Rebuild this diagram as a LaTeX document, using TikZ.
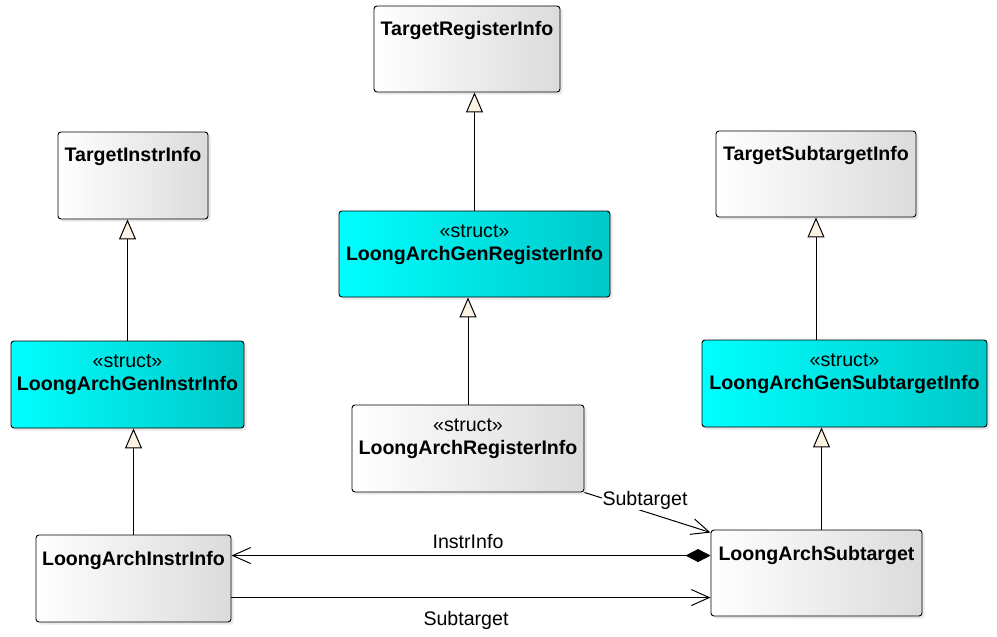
\documentclass[tikz,border=0pt]{standalone}
\usepackage{fontspec}
\setmainfont{Liberation Sans}
\usepackage{tikz}
\usetikzlibrary{arrows.meta, positioning, shadows}
\definecolor{gencyan}{RGB}{0,200,200}
\definecolor{tricream}{RGB}{252,242,228}
\tikzset{
  cls/.style={draw, line width=0.9pt, rounded corners=3pt, left color=white, right color=black!14,
    drop shadow={opacity=0.18, shadow xshift=2.5pt, shadow yshift=-2.5pt}},
  gencls/.style={cls, left color=cyan, right color=gencyan},
  clsname/.style={font=\fontsize{19.6}{23}\selectfont\bfseries, inner sep=0pt, text height=14pt, text depth=4pt},
  stereo/.style={font=\fontsize{19.6}{23}\selectfont, inner sep=0pt, text height=14pt, text depth=4pt},
  lbl/.style={font=\fontsize{19.6}{23}\selectfont, inner sep=1pt, fill=white},
  inherit/.style={line width=1pt, -{Triangle[length=20pt, width=17pt, fill=tricream, line width=1pt]}},
  assoc/.style={line width=1pt, -{Straight Barb[length=18pt, width=16pt, line width=1pt]}}
}

\begin{document}
\begin{tikzpicture}[x=1pt, y=-1pt]
  \useasboundingbox (0,0) rectangle (997,637);
  % classes
  \node[cls, minimum width=186pt, minimum height=86pt] (trg) at (467,49) {};
  \node[cls, minimum width=150pt, minimum height=87pt] (tii) at (133,175.5) {};
  \node[cls, minimum width=200pt, minimum height=86pt] (tsi) at (816,174) {};
  \node[gencls, minimum width=271pt, minimum height=86pt] (genreg) at (474.5,254) {};
  \node[gencls, minimum width=233pt, minimum height=87pt] (geninstr) at (127.5,384.5) {};
  \node[gencls, minimum width=285pt, minimum height=87pt] (gensub) at (844.5,383.5) {};
  \node[cls, minimum width=232pt, minimum height=87pt] (regi) at (468,448.5) {};
  \node[cls, minimum width=195pt, minimum height=87pt] (instr) at (133.5,578.5) {};
  \node[cls, minimum width=211pt, minimum height=86pt] (sub) at (816.5,573) {};
  % class names
  \node[clsname] (trgname) at ([yshift=-25pt]trg.north) {TargetRegisterInfo};
  \node[clsname] (tiiname) at ([yshift=-25pt]tii.north) {TargetInstrInfo};
  \node[clsname] (tsiname) at ([yshift=-25pt]tsi.north) {TargetSubtargetInfo};
  \node[stereo] (genregst) at ([yshift=-22pt]genreg.north) {«struct»};
  \node[clsname] (genregname) at ([yshift=-45pt]genreg.north) {LoongArchGenRegisterInfo};
  \node[stereo] (geninstrst) at ([yshift=-22pt]geninstr.north) {«struct»};
  \node[clsname] (geninstrname) at ([yshift=-45pt]geninstr.north) {LoongArchGenInstrInfo};
  \node[stereo] (gensubst) at ([yshift=-22pt]gensub.north) {«struct»};
  \node[clsname] (gensubname) at ([yshift=-45pt]gensub.north) {LoongArchGenSubtargetInfo};
  \node[stereo] (regist) at ([yshift=-22pt]regi.north) {«struct»};
  \node[clsname] (reginame) at ([yshift=-45pt]regi.north) {LoongArchRegisterInfo};
  \node[clsname] (instrname) at ([yshift=-26pt]instr.north) {LoongArchInstrInfo};
  \node[clsname] (subname) at ([yshift=-26pt]sub.north) {LoongArchSubtarget};
  % generalizations
  \draw[inherit] (genreg.north) -- (genreg.north |- trg.south);
  \draw[inherit] (geninstr.north) -- (geninstr.north |- tii.south);
  \draw[inherit] (tsi.south |- gensub.north) -- (tsi.south);
  \draw[inherit] (regi.north) -- (regi.north |- genreg.south);
  \draw[inherit] (instr.north) -- (instr.north |- geninstr.south);
  \draw[inherit] ([xshift=5pt]sub.north) -- ([xshift=5pt]sub.north |- gensub.south);
  % associations
  \coordinate (subin) at ([yshift=-26pt]sub.north west);
  \coordinate (instrout) at ([yshift=-63pt]instr.north east);
  \draw[assoc] (regi.south east) -- ([yshift=-3pt]sub.north west);
  \draw[assoc, {Diamond[length=25pt, width=13pt]}-{Straight Barb[length=18pt, width=16pt, line width=1pt]}] (subin) -- (subin -| instr.east);
  \draw[assoc] (instrout) -- (instrout -| sub.west);
  \node[lbl] (regsublbl) at (645,500) {Subtarget};
  \node[lbl] (instrlbl) at (468,541) {InstrInfo};
  \node[lbl] (sublbl) at (466,620) {Subtarget};
\end{tikzpicture}
\end{document}
